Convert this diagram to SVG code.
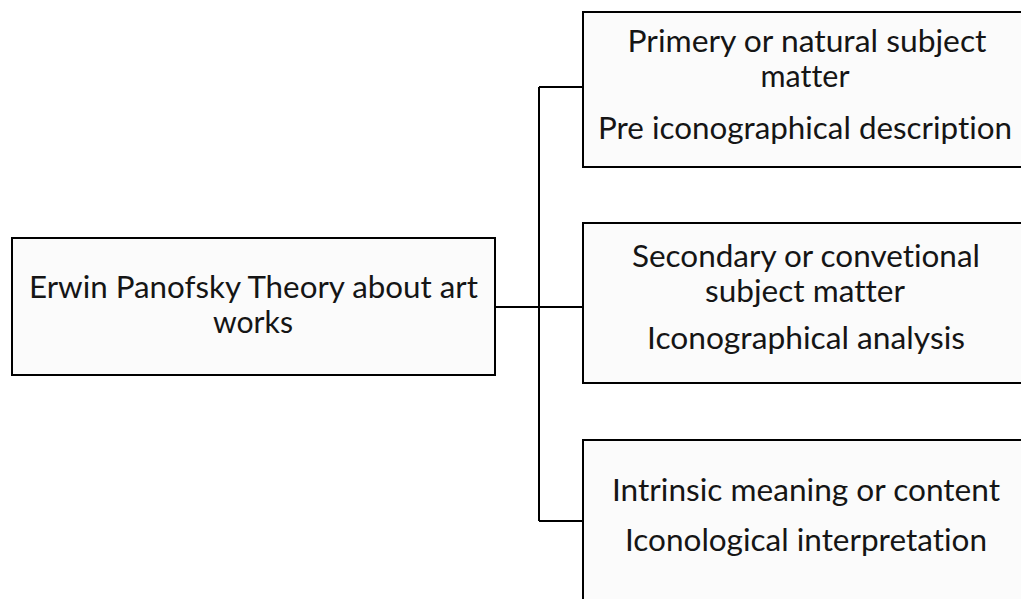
<svg xmlns="http://www.w3.org/2000/svg" width="1021" height="599" viewBox="0 0 1021 599">
<style>
.box{fill:#fbfbfb;stroke:#000;stroke-width:2}
.t{font-family:Lato,"Open Sans",sans-serif;font-size:30px;fill:#151515;text-anchor:middle;font-variant-ligatures:none}
.c{fill:none;stroke:#000;stroke-width:2}
</style>
<rect width="1021" height="599" fill="#fff"/>
<g id="connectors">
<path class="c" d="M495 307H539M539 87V521M539 87H583M539 307H583M539 521H583"/>
</g>
<g id="root">
<rect class="box" x="12" y="238" width="483" height="137"/>
<text class="t" x="253.5" y="298" textLength="449" lengthAdjust="spacingAndGlyphs">Erwin Panofsky Theory about art</text>
<text class="t" x="253" y="333" textLength="80" lengthAdjust="spacingAndGlyphs">works</text>
</g>
<g id="primary">
<rect class="box" x="583" y="12" width="450" height="155"/>
<text class="t" x="807" y="52" textLength="359" lengthAdjust="spacingAndGlyphs">Primery or natural subject</text>
<text class="t" x="805" y="87" textLength="89" lengthAdjust="spacingAndGlyphs">matter</text>
<text class="t" x="805" y="139" textLength="414" lengthAdjust="spacingAndGlyphs">Pre iconographical description</text>
</g>
<g id="secondary">
<rect class="box" x="583" y="223" width="450" height="160"/>
<text class="t" x="806" y="267" textLength="348" lengthAdjust="spacingAndGlyphs">Secondary or convetional</text>
<text class="t" x="805" y="302" textLength="200" lengthAdjust="spacingAndGlyphs">subject matter</text>
<text class="t" x="806" y="349" textLength="318" lengthAdjust="spacingAndGlyphs">Iconographical analysis</text>
</g>
<g id="intrinsic">
<rect class="box" x="583" y="440" width="450" height="170"/>
<text class="t" x="806" y="501" textLength="388" lengthAdjust="spacingAndGlyphs">Intrinsic meaning or content</text>
<text class="t" x="806" y="551" textLength="362" lengthAdjust="spacingAndGlyphs">Iconological interpretation</text>
</g>
</svg>
